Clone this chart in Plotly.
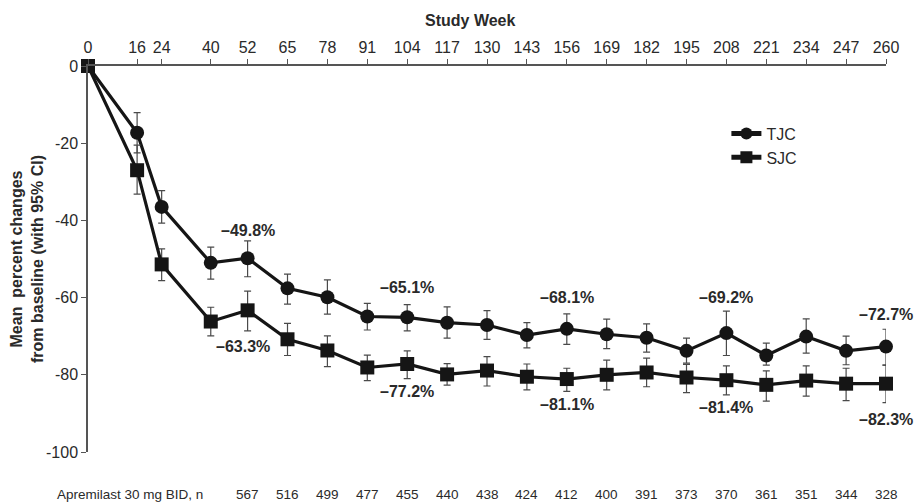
import plotly.graph_objects as go

# ---------------- data ----------------
weeks = [0, 16, 24, 40, 52, 65, 78, 91, 104, 117, 130, 143, 156, 169, 182, 195, 208, 221, 234, 247, 260]

tjc = [0, -17.3, -36.5, -51.0, -49.8, -57.6, -59.9, -64.9, -65.1, -66.5, -67.1, -69.7, -68.1, -69.5,
       -70.4, -73.8, -69.2, -75.0, -70.1, -73.8, -72.7]
tjc_upper = [0, -12.1, -32.3, -46.9, -45.3, -53.9, -55.4, -61.5, -61.8, -62.4, -63.4, -66.5, -64.2, -65.6,
             -66.8, -70.5, -63.5, -71.8, -65.5, -70.0, -68.2]
tjc_lower = [0, -22.5, -40.7, -55.2, -54.6, -61.7, -64.3, -68.4, -68.6, -70.5, -70.8, -73.0, -72.1, -73.2,
             -74.1, -77.0, -75.0, -77.5, -74.4, -77.4, -77.5]

sjc = [0, -27.0, -51.4, -66.2, -63.3, -70.8, -73.7, -78.1, -77.2, -79.9, -78.9, -80.5, -81.1, -80.0,
       -79.4, -80.7, -81.4, -82.6, -81.5, -82.3, -82.3]
sjc_upper = [0, -20.5, -47.4, -62.5, -58.3, -66.7, -69.9, -74.9, -73.8, -77.1, -75.3, -77.2, -78.3, -76.2,
             -75.7, -77.3, -77.7, -79.0, -77.7, -78.3, -77.5]
sjc_lower = [0, -33.2, -55.6, -69.9, -68.6, -75.0, -77.9, -81.5, -81.0, -82.7, -82.9, -83.9, -84.3, -83.9,
             -83.1, -84.6, -85.2, -86.8, -85.5, -86.7, -87.2]

x_ticks = [0, 16, 24, 40, 52, 65, 78, 91, 104, 117, 130, 143, 156, 169, 182, 195, 208, 221, 234, 247, 260]
y_ticks = [0, -20, -40, -60, -80, -100]
y_ticktext = ["0", "-20", "-40", "-60", "-80", "-100"]

n_weeks = [52, 65, 78, 91, 104, 117, 130, 143, 156, 169, 182, 195, 208, 221, 234, 247, 260]
n_values = [567, 516, 499, 477, 455, 440, 438, 424, 412, 400, 391, 373, 370, 361, 351, 344, 328]

tjc_label_weeks = [52, 104, 156, 208, 260]
tjc_label_text = ["\u201349.8%", "\u201365.1%", "\u201368.1%", "\u201369.2%", "\u201372.7%"]
sjc_label_weeks = [52, 104, 156, 208, 260]
sjc_label_text = ["\u201363.3%", "\u201377.2%", "\u201381.1%", "\u201381.4%", "\u201382.3%"]

# ---------------- style ----------------
FONT = "Liberation Sans, Arial, Helvetica, sans-serif"
INK = "#151515"
TXT = "#2a2a2a"
AX = "#555555"

tjc_shift = [(0, 28), (0, 30), (0, 31), (0, 36), (0, 32)]
sjc_shift = [(-5, -36), (0, -28), (0, -25), (0, -27), (0, -36)]


def errs(vals, up, lo):
    plus = [u - v for v, u in zip(vals, up)]
    minus = [v - l for v, l in zip(vals, lo)]
    return plus, minus


fig = go.Figure()
for name, vals, up, lo, sym, size in [
    ("TJC", tjc, tjc_upper, tjc_lower, "circle", 14),
    ("SJC", sjc, sjc_upper, sjc_lower, "square", 14),
]:
    p, m = errs(vals, up, lo)
    fig.add_trace(go.Scatter(
        x=weeks, y=vals, name=name, mode="lines+markers",
        line=dict(color=INK, width=3.2),
        marker=dict(symbol=sym, size=size, color=INK, line=dict(width=0)),
        error_y=dict(type="data", symmetric=False, array=p, arrayminus=m,
                     color="#4a4a4a", thickness=1.2, width=3.5),
        cliponaxis=False,
    ))

annotations = []
for (w, t), (dx, dy) in zip(zip(tjc_label_weeks, tjc_label_text), tjc_shift):
    annotations.append(dict(x=w, y=tjc[weeks.index(w)], xref="x", yref="y", text="<b>%s</b>" % t,
                            showarrow=False, xshift=dx, yshift=dy,
                            font=dict(family=FONT, size=16, color=TXT)))
for (w, t), (dx, dy) in zip(zip(sjc_label_weeks, sjc_label_text), sjc_shift):
    annotations.append(dict(x=w, y=sjc[weeks.index(w)], xref="x", yref="y", text="<b>%s</b>" % t,
                            showarrow=False, xshift=dx, yshift=dy,
                            font=dict(family=FONT, size=16, color=TXT)))
for w, n in zip(n_weeks, n_values):
    annotations.append(dict(x=w, y=-0.109, xref="x", yref="paper", text=str(n), showarrow=False,
                            yanchor="middle", font=dict(family=FONT, size=13.5, color=TXT)))
annotations.append(dict(x=-0.0414, y=-0.109, xref="paper", yref="paper", text="Apremilast 30 mg BID, n",
                        showarrow=False, xanchor="left", yanchor="middle",
                        font=dict(family=FONT, size=13.5, color=TXT)))
annotations.append(dict(x=0.479, y=1.119, xref="paper", yref="paper", text="<b>Study Week</b>",
                        showarrow=False, xanchor="center", yanchor="middle",
                        font=dict(family=FONT, size=16, color=TXT)))
annotations.append(dict(x=-0.0764, y=0.5, xref="paper", yref="paper",
                        text="<b>Mean\u00a0 percent changes<br>from baseline (with 95% CI)</b>",
                        showarrow=False, textangle=-90, xanchor="center", yanchor="middle",
                        font=dict(family=FONT, size=16, color=TXT)))

fig.update_layout(
    width=915, height=503,
    margin=dict(l=88, r=29, t=66, b=51),
    paper_bgcolor="white", plot_bgcolor="white",
    font=dict(family=FONT, size=16, color=TXT),
    showlegend=True,
    legend=dict(x=0.80, y=0.869, xanchor="left", yanchor="top", bgcolor="rgba(0,0,0,0)",
                font=dict(family=FONT, size=16, color=TXT), tracegroupgap=0, itemsizing="constant"),
    annotations=annotations,
    xaxis=dict(range=[0, 260], side="top", tickvals=x_ticks, ticktext=[str(t) for t in x_ticks],
               showgrid=False, zeroline=False, showline=True, linecolor=AX, linewidth=1.5,
               ticks="outside", ticklen=5, tickcolor=AX, tickwidth=1.2,
               tickfont=dict(family=FONT, size=16, color=TXT), anchor="y", position=1),
    yaxis=dict(range=[-100, 0], tickvals=y_ticks, ticktext=y_ticktext,
               showgrid=False, zeroline=False, showline=True, linecolor=AX, linewidth=1.5,
               ticks="outside", ticklen=5, tickcolor=AX, tickwidth=1.2,
               tickfont=dict(family=FONT, size=16, color=TXT)),
)

fig.write_html("out.html", config={"displayModeBar": False},
               post_script="document.body.style.margin='0';document.body.style.overflow='hidden';")
